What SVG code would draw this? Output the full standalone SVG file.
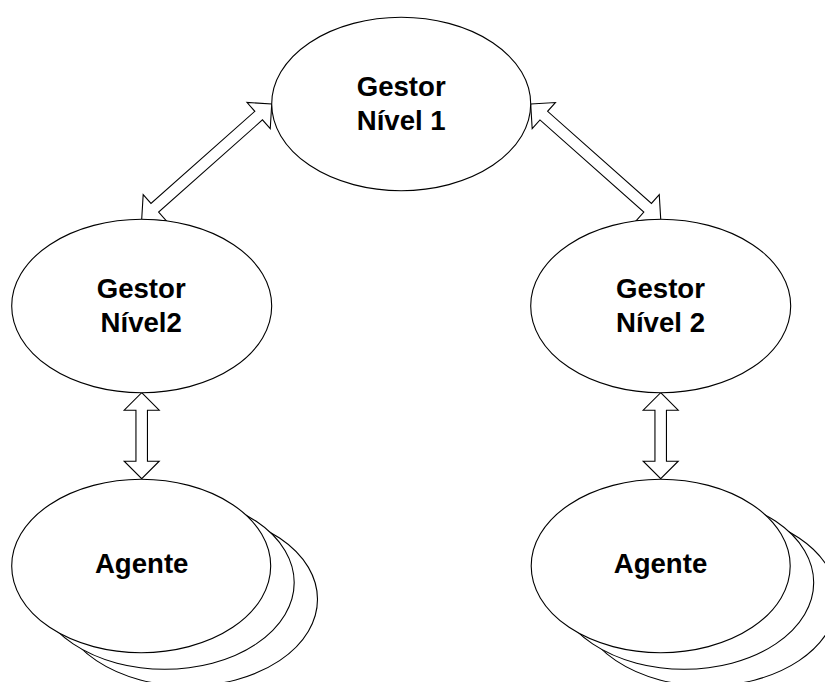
<svg xmlns="http://www.w3.org/2000/svg" width="825" height="682" viewBox="0 0 825 682">
  <defs>
    <style>
      .node { fill: #ffffff; stroke: #000000; stroke-width: 1.1; }
      .link { fill: #ffffff; stroke: #000000; stroke-width: 1.1; stroke-linejoin: miter; }
      .label { font-family: "Liberation Sans", Arial, sans-serif; font-weight: bold; font-size: 27.6px; fill: #000000; text-anchor: middle; }
    </style>
  </defs>
  <rect x="0" y="0" width="825" height="682" fill="#ffffff"/>

  <!-- double-headed block arrows, drawn along local x from 0 to L -->
  <g id="connectors">
    <!-- Gestor Nível2 (left) <-> Gestor Nível 1 -->
    <polygon class="link" transform="translate(141.7 219.3) rotate(-41.57)"
      points="0,0 17.5,-17.5 17.5,-5.75 156.3,-5.75 156.3,-17.5 173.8,0 156.3,17.5 156.3,5.75 17.5,5.75 17.5,17.5"/>
    <!-- Gestor Nível 1 <-> Gestor Nível 2 (right) -->
    <polygon class="link" transform="translate(530.7 104) rotate(41.57)"
      points="0,0 17.5,-17.5 17.5,-5.75 156.3,-5.75 156.3,-17.5 173.8,0 156.3,17.5 156.3,5.75 17.5,5.75 17.5,17.5"/>
    <!-- Gestor Nível2 <-> Agente (left) -->
    <polygon class="link" transform="translate(141.7 392.7) rotate(90)"
      points="0,0 17.5,-17.5 17.5,-5.75 68.5,-5.75 68.5,-17.5 86,0 68.5,17.5 68.5,5.75 17.5,5.75 17.5,17.5"/>
    <!-- Gestor Nível 2 <-> Agente (right) -->
    <polygon class="link" transform="translate(660.7 392.7) rotate(90)"
      points="0,0 17.5,-17.5 17.5,-5.75 68.5,-5.75 68.5,-17.5 86,0 68.5,17.5 68.5,5.75 17.5,5.75 17.5,17.5"/>
  </g>

  <g id="gestor-nivel1">
    <ellipse class="node" cx="401.2" cy="104" rx="129.5" ry="86.7"/>
    <text class="label" x="401.2" y="96">Gestor</text>
    <text class="label" x="401.2" y="129.5">Nível 1</text>
  </g>

  <g id="gestor-nivel2-left">
    <ellipse class="node" cx="141.7" cy="306" rx="130" ry="86.7"/>
    <text class="label" x="141.2" y="298.3">Gestor</text>
    <text class="label" x="141.2" y="331.7">Nível2</text>
  </g>

  <g id="gestor-nivel2-right">
    <ellipse class="node" cx="660.7" cy="306" rx="130" ry="86.7"/>
    <text class="label" x="660.5" y="298.3">Gestor</text>
    <text class="label" x="660.5" y="331.7">Nível 2</text>
  </g>

  <!-- stacked agents: back copies first, front copy carries the label -->
  <g id="agente-left">
    <ellipse class="node" cx="188" cy="599.3" rx="129.5" ry="86.7"/>
    <ellipse class="node" cx="164.7" cy="582.6" rx="129.5" ry="86.7"/>
    <ellipse class="node" cx="141.2" cy="566" rx="129.5" ry="86.7"/>
    <text class="label" x="141.7" y="573.3">Agente</text>
  </g>

  <g id="agente-right">
    <ellipse class="node" cx="707.5" cy="599.3" rx="129.5" ry="86.7"/>
    <ellipse class="node" cx="684.2" cy="582.6" rx="129.5" ry="86.7"/>
    <ellipse class="node" cx="660.7" cy="566" rx="129.5" ry="86.7"/>
    <text class="label" x="660.5" y="573.3">Agente</text>
  </g>
</svg>
